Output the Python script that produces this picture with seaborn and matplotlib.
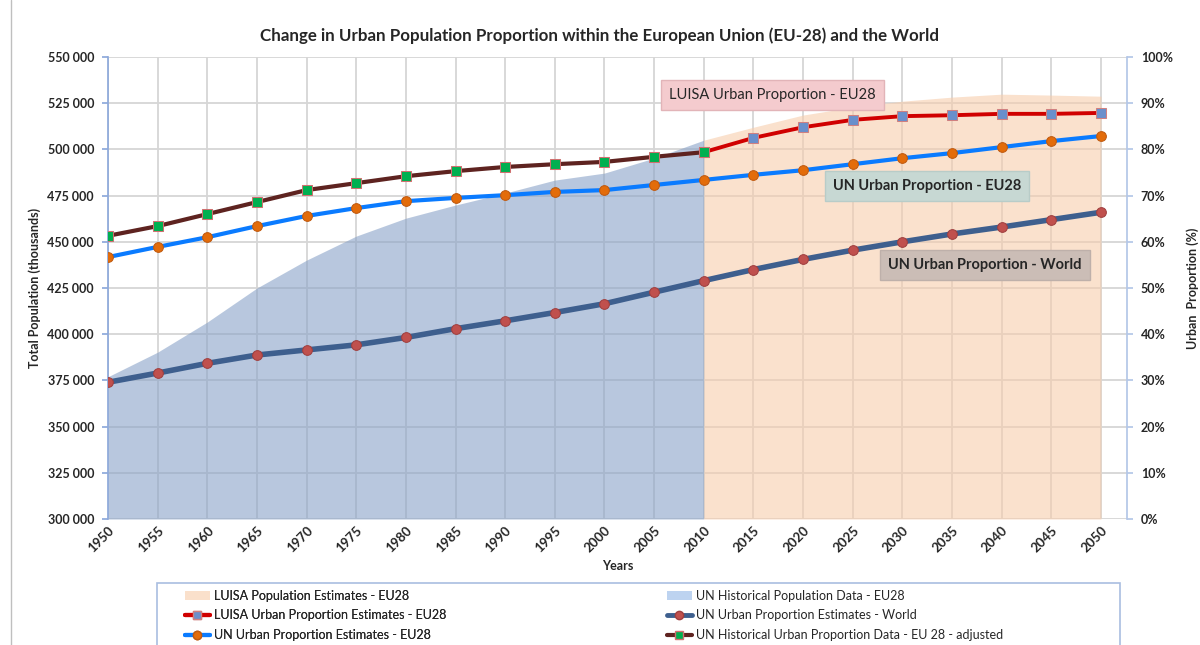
import seaborn as sns
import matplotlib.pyplot as plt
from matplotlib.lines import Line2D
from matplotlib.patches import Patch, Rectangle
from matplotlib.ticker import FuncFormatter, PercentFormatter

# values
years_hist = [1950, 1955, 1960, 1965, 1970, 1975, 1980, 1985, 1990, 1995, 2000, 2005, 2010]
years_proj = [2010, 2015, 2020, 2025, 2030, 2035, 2040, 2045, 2050]
years_all = years_hist + years_proj[1:]

un_hist_pop = [377000, 390300, 406600, 425000, 440100, 453100, 462800, 469900, 476400, 483400, 487200, 495300, 505000]
luisa_pop = [505000, 512000, 518600, 522900, 526100, 528300, 529900, 529400, 528800]

luisa_urban = [79.4, 82.5, 84.8, 86.4, 87.2, 87.4, 87.7, 87.7, 87.9]
un_urban_eu = [56.7, 58.9, 61.0, 63.4, 65.6, 67.3, 68.8, 69.5, 70.1, 70.8, 71.2, 72.3, 73.4,
               74.5, 75.5, 76.8, 78.1, 79.2, 80.5, 81.8, 82.9]
un_urban_world = [29.6, 31.6, 33.7, 35.5, 36.6, 37.7, 39.3, 41.2, 42.9, 44.7, 46.6, 49.1, 51.6,
                  54.0, 56.2, 58.2, 60.0, 61.7, 63.2, 64.8, 66.4]
un_hist_urban_adj = [61.3, 63.4, 66.0, 68.6, 71.2, 72.7, 74.2, 75.3, 76.2, 76.8, 77.3, 78.4, 79.4]

# format
sns.set_theme(style="white")
plt.rcParams['font.family'] = ['Lato', 'DejaVu Sans']

fig = plt.figure(figsize=(12, 6.45), dpi=100)
ax = fig.add_axes([0.09, 0.1953, 0.849, 0.7163])
ax2 = ax.twinx()

grid_col = "#D6D6D6"
ax.set_xlim(1950, 2052.6)
ax.set_ylim(300000, 550000)
ax.set_xticks(years_all)
ax.set_yticks(range(300000, 550001, 25000))
ax.grid(True, color=grid_col, lw=1.3, zorder=0)
ax.set_axisbelow(True)

# areas
ax.fill_between(years_hist, 300000, un_hist_pop, color="#8AA3C8", alpha=0.6, lw=0, zorder=1)
ax.fill_between(years_proj, 300000, luisa_pop, color="#F7CDAC", alpha=0.6, lw=0, zorder=1)

# lines
ax2.set_ylim(0, 100)
ax2.set_yticks(range(0, 101, 10))
sns.lineplot(x=years_all, y=un_urban_world, ax=ax2, color="#3E5F8E", lw=4,
             marker="o", markersize=7, markerfacecolor="#C0504D", markeredgecolor="#A04040")
sns.lineplot(x=years_all, y=un_urban_eu, ax=ax2, color="#0A7BFF", lw=3,
             marker="o", markersize=7, markerfacecolor="#E36C0A", markeredgecolor="#C05A10")
sns.lineplot(x=years_proj, y=luisa_urban, ax=ax2, color="#D00000", lw=2.8,
             marker="s", markersize=6.5, markerfacecolor="#6A8FCB", markeredgecolor="#D08080")
sns.lineplot(x=years_hist, y=un_hist_urban_adj, ax=ax2, color="#5E2320", lw=3,
             marker="s", markersize=6.5, markerfacecolor="#00B050", markeredgecolor="#D07070")

# annotation boxes
ax2.text(2016.9, 91.8, "LUISA Urban Proportion - EU28", ha="center", va="center", fontsize=10.5,
         bbox=dict(boxstyle="square,pad=0.55", fc="#F4CBCE", ec="#E2B4B8"), zorder=5)
ax2.text(2032.5, 72.1, "UN Urban Proportion - EU28", ha="center", va="center", fontsize=10.5, fontweight="bold",
         bbox=dict(boxstyle="square,pad=0.55", fc="#C7D8D3", ec="#B8CCC8"), zorder=5)
ax2.text(2038.3, 55.0, "UN Urban Proportion - World", ha="center", va="center", fontsize=10.5, fontweight="bold",
         bbox=dict(boxstyle="square,pad=0.55", fc="#CBBDB6", ec="#BEB0AA"), zorder=5)

# axes styling
for a in (ax, ax2):
    for s in a.spines.values():
        s.set_visible(False)
ax.spines["left"].set_visible(True)
ax.spines["left"].set_color("#8EA9DB")
ax2.spines["right"].set_visible(True)
ax2.spines["right"].set_color("#B4C7E7")

ax.yaxis.set_major_formatter(FuncFormatter(lambda v, p: f"{int(v):,}".replace(",", " ")))
ax2.yaxis.set_major_formatter(PercentFormatter(decimals=0))
ax.tick_params(axis="y", labelsize=9, length=4, color="#8EA9DB", pad=6)
ax2.tick_params(axis="y", labelsize=9, length=4, color="#B4C7E7", pad=6)
ax.tick_params(axis="x", labelsize=9.5, length=0, pad=4)
for lbl in ax.get_xticklabels():
    lbl.set_rotation(45)
    lbl.set_ha("right")
    lbl.set_rotation_mode("anchor")
for lbl in ax.get_xticklabels() + ax.get_yticklabels() + ax2.get_yticklabels():
    lbl.set_fontweight("bold")

ax.set_xlabel("Years", fontsize=9, fontweight="bold", labelpad=4)
ax.set_ylabel("Total Population (thousands)", fontsize=9, fontweight="bold", labelpad=5)
ax2.set_ylabel("Urban  Proportion (%)", fontsize=9, fontweight="bold", labelpad=10)

fig.text(0.5, 0.944, "Change in Urban Population Proportion within the European Union (EU-28) and the World",
         ha="center", va="center", fontsize=12.2, fontweight="bold")

# left border of the chart area
fig.add_artist(Line2D([0.009, 0.009], [0, 1], color="#BFBFBF", lw=1))

# legend
fig.add_artist(Rectangle((157 / 1200, -0.05), (1120 - 157) / 1200, 0.05 + (645 - 583) / 645,
                         transform=fig.transFigure, fill=False, ec="#A9BEE0", lw=1.2))
h_left = [
    Patch(fc="#FAE0CB", ec="none"),
    Line2D([], [], color="#D00000", lw=3, marker="s", markersize=6, markerfacecolor="#6A8FCB", markeredgecolor="#D08080"),
    Line2D([], [], color="#0A7BFF", lw=3, marker="o", markersize=6, markerfacecolor="#E36C0A", markeredgecolor="#C05A10"),
]
l_left = ["LUISA Population Estimates - EU28", "LUISA Urban Proportion Estimates - EU28",
          "UN Urban Proportion Estimates - EU28"]
h_right = [
    Patch(fc="#BDD3F0", ec="none"),
    Line2D([], [], color="#3E5F8E", lw=3.5, marker="o", markersize=6, markerfacecolor="#C0504D", markeredgecolor="#A04040"),
    Line2D([], [], color="#5E2320", lw=3, marker="s", markersize=6, markerfacecolor="#00B050", markeredgecolor="#D07070"),
]
l_right = ["UN Historical Population Data - EU28", "UN Urban Proportion Estimates - World",
           "UN Historical Urban Proportion Data - EU 28 - adjusted"]
leg1 = fig.legend(h_left, l_left, loc="upper left", bbox_to_anchor=(182 / 1200, 1 - 587 / 645),
                  frameon=False, fontsize=9, handlelength=2.0, handletextpad=0.4, labelspacing=0.62,
                  borderaxespad=0, borderpad=0.2)
fig.add_artist(leg1)
fig.legend(h_right, l_right, loc="upper left", bbox_to_anchor=(664 / 1200, 1 - 587 / 645),
           frameon=False, fontsize=9, handlelength=2.0, handletextpad=0.4, labelspacing=0.62,
           borderaxespad=0, borderpad=0.2)

plt.savefig("out.png", dpi=100)
